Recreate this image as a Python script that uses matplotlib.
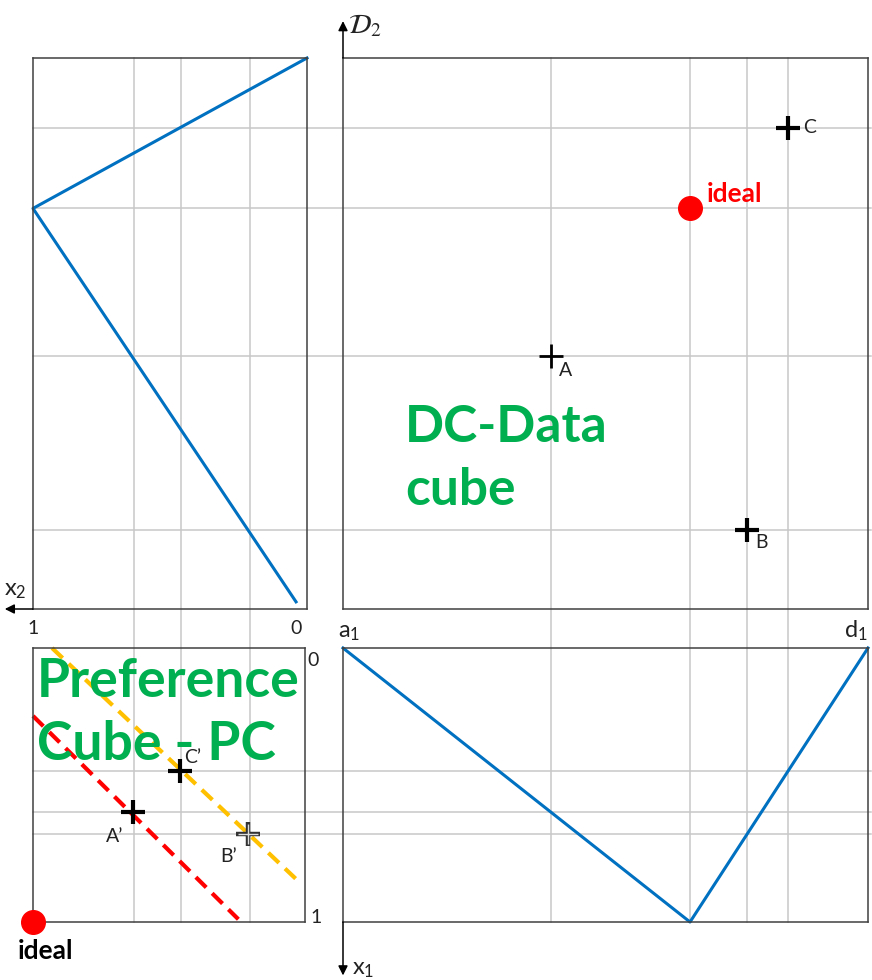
import matplotlib
matplotlib.use('Agg')
import matplotlib.pyplot as plt
from matplotlib.lines import Line2D
from matplotlib.transforms import blended_transform_factory as btf

plt.rcParams['font.family'] = ['Lato', 'DejaVu Sans']

# points of the data cube (D1 from a1 to d1, D2 from bottom to top)
names = ['A', 'B', 'C']
d1_vals = [0.396, 0.769, 0.848]
d2_vals = [0.459, 0.143, 0.873]
ideal_d1 = 0.661
ideal_d2 = 0.727

# same points in the preference cube
x1_vals = [0.60, 0.68, 0.45]
x2_vals = [0.631, 0.208, 0.46]
ideal_x1 = 1.0
ideal_x2 = 1.0

# preference functions
pref1_d1 = [0.0, 0.661, 1.0]
pref1_x1 = [0.0, 1.0, 0.0]
pref2_x2 = [0.0, 1.0, 0.04]
pref2_d2 = [1.0, 0.727, 0.013]

# iso-preference lines (x2, x1)
iso_red_x2 = [1.0, 0.245]
iso_red_x1 = [0.248, 0.99]
iso_org_x2 = [0.93, 0.015]
iso_org_x1 = [0.0, 0.86]

W, H = 872, 980
fig = plt.figure(figsize=(W / 100, H / 100), dpi=100)


def box(x0, y0, x1, y1):
    return [x0 / W, 1 - y1 / H, (x1 - x0) / W, (y1 - y0) / H]


ax_tl = fig.add_axes(box(33, 58, 307, 609))
ax_tr = fig.add_axes(box(343, 58, 868, 609))
ax_bl = fig.add_axes(box(33, 648, 305, 922))
ax_br = fig.add_axes(box(343, 648, 868, 922))

ax_tl.set_xlim(1, 0); ax_tl.set_ylim(0, 1)
ax_tr.set_xlim(0, 1); ax_tr.set_ylim(0, 1)
ax_bl.set_xlim(1, 0); ax_bl.set_ylim(1, 0)
ax_br.set_xlim(0, 1); ax_br.set_ylim(1, 0)

for ax in (ax_tl, ax_tr, ax_bl, ax_br):
    ax.set_facecolor('none')
    ax.set_xticks([])
    ax.set_yticks([])
    for s in ax.spines.values():
        s.set_color('#404040')
        s.set_linewidth(1.1)

# grid lines running across the panels
grid_c = '#c8c8c8'
top_y, bot_y = 1 - 58 / H, 1 - 922 / H
left_x, right_x = 33 / W, 871 / W
for v in d1_vals + [ideal_d1]:
    fig.add_artist(Line2D([v, v], [bot_y, top_y], transform=btf(ax_tr.transData, fig.transFigure),
                          color=grid_c, lw=1.1, zorder=-1))
for v in x2_vals:
    fig.add_artist(Line2D([v, v], [bot_y, top_y], transform=btf(ax_tl.transData, fig.transFigure),
                          color=grid_c, lw=1.1, zorder=-1))
for v in d2_vals + [ideal_d2]:
    fig.add_artist(Line2D([left_x, right_x], [v, v], transform=btf(fig.transFigure, ax_tr.transData),
                          color=grid_c, lw=1.1, zorder=-1))
for v in x1_vals:
    fig.add_artist(Line2D([left_x, right_x], [v, v], transform=btf(fig.transFigure, ax_br.transData),
                          color=grid_c, lw=1.1, zorder=-1))

blue = '#0070c0'
ax_tl.plot(pref2_x2, pref2_d2, color=blue, lw=2.2, clip_on=False)
ax_br.plot(pref1_d1, pref1_x1, color=blue, lw=2.2, clip_on=False)

txt_c = '#222222'

# data cube
mew = [2.0, 3.0, 3.0]
for n, x, y, w in zip(names, d1_vals, d2_vals, mew):
    ax_tr.plot(x, y, marker='+', ms=17, mew=w, color='black')
label_off = {'A': (8, -20, 'left', 'baseline'), 'B': (9, -18, 'left', 'baseline'),
             'C': (15, 0, 'left', 'center')}
for n, x, y in zip(names, d1_vals, d2_vals):
    dx, dy, ha, va = label_off[n]
    ax_tr.annotate(n, (x, y), xytext=(dx, dy), textcoords='offset pixels',
                   fontsize=14, ha=ha, va=va, color=txt_c)
ax_tr.plot(ideal_d1, ideal_d2, 'o', ms=17, color='#ff0000')
ax_tr.annotate('ideal', (ideal_d1, ideal_d2), xytext=(17, 6), textcoords='offset pixels',
               fontsize=19, fontweight='bold', color='#ff0000', ha='left', va='baseline')
ax_tr.text(0.118, 0.303, 'DC-Data', fontsize=37, fontweight='bold', color='#00b050', va='baseline')
ax_tr.text(0.118, 0.189, 'cube', fontsize=37, fontweight='bold', color='#00b050', va='baseline')

# preference cube
ax_bl.plot(iso_red_x2, iso_red_x1, color='#ff0000', lw=3, ls=(0, (3.5, 2)), clip_on=False)
ax_bl.plot(iso_org_x2, iso_org_x1, color='#ffc000', lw=3, ls=(0, (3.5, 2)), clip_on=False)
for n, x, y in zip(names, x2_vals, x1_vals):
    if n == 'B':
        ax_bl.plot(x, y, marker='+', ms=17, mew=3.2, color='#333333')
        ax_bl.plot(x, y, marker='+', ms=15, mew=1.0, color='#dddddd')
    else:
        ax_bl.plot(x, y, marker='+', ms=17, mew=3.0, color='black')
prime_off = {'A': (-10, -30, 'right'), 'B': (-12, -28, 'right'), 'C': (4, 8, 'left')}
for n, x, y in zip(names, x2_vals, x1_vals):
    dx, dy, ha = prime_off[n]
    ax_bl.annotate(n + '\u2019', (x, y), xytext=(dx, dy), textcoords='offset pixels',
                   fontsize=14, ha=ha, va='baseline', color=txt_c)
ax_bl.plot(ideal_x2, ideal_x1, 'o', ms=17, color='#ff0000', clip_on=False, zorder=5)
ax_bl.annotate('ideal', (ideal_x2, ideal_x1), xytext=(-15, -37), textcoords='offset pixels',
               fontsize=19, fontweight='bold', color='black', ha='left', va='baseline')
ax_bl.text(0.985, 0.179, 'Preference', fontsize=38.5, fontweight='bold', color='#00b050',
           va='baseline')
ax_bl.text(0.985, 0.409, 'Cube - PC', fontsize=38.5, fontweight='bold', color='#00b050',
           va='baseline')

# axis arrows and labels
arr = dict(arrowstyle='-|>', color='black', lw=1.1, mutation_scale=14, shrinkA=0, shrinkB=0)
ax_tr.annotate('', xy=(0, 1.067), xytext=(0, 1), xycoords='axes fraction', arrowprops=arr)
ax_tr.text(0.01, 1.045, r'$\mathcal{D}_2$', transform=ax_tr.transAxes, fontsize=20,
           math_fontfamily='stix', ha='left', va='baseline', color=txt_c)
ax_tl.annotate('', xy=(-0.103, 0), xytext=(0, 0), xycoords='axes fraction', arrowprops=arr)
ax_tl.text(-0.105, 0.024, r'$\mathregular{x_2}$', transform=ax_tl.transAxes, fontsize=17,
           ha='left', va='baseline', color=txt_c)
ax_br.annotate('', xy=(0, -0.195), xytext=(0, 0), xycoords='axes fraction', arrowprops=arr)
ax_br.text(0.017, -0.19, r'$\mathregular{x_1}$', transform=ax_br.transAxes, fontsize=17,
           ha='left', va='baseline', color=txt_c)

ax_tl.text(1.0, -0.045, '1', transform=btf(ax_tl.transData, ax_tl.transAxes), fontsize=14,
           ha='center', va='baseline', color=txt_c)
ax_tl.text(0.04, -0.045, '0', transform=btf(ax_tl.transData, ax_tl.transAxes), fontsize=14,
           ha='center', va='baseline', color=txt_c)
ax_bl.text(1.01, 0.955, '0', transform=ax_bl.transAxes, fontsize=14, ha='left', va='center',
           color=txt_c)
ax_bl.text(1.02, 0.015, '1', transform=ax_bl.transAxes, fontsize=14, ha='left', va='center',
           color=txt_c)
ax_br.text(-0.01, 1.04, r'$\mathregular{a_1}$', transform=ax_br.transAxes, fontsize=17,
           ha='left', va='baseline', color=txt_c)
ax_br.text(1.0, 1.04, r'$\mathregular{d_1}$', transform=ax_br.transAxes, fontsize=17,
           ha='right', va='baseline', color=txt_c)

fig.savefig('out.png', dpi=100)
